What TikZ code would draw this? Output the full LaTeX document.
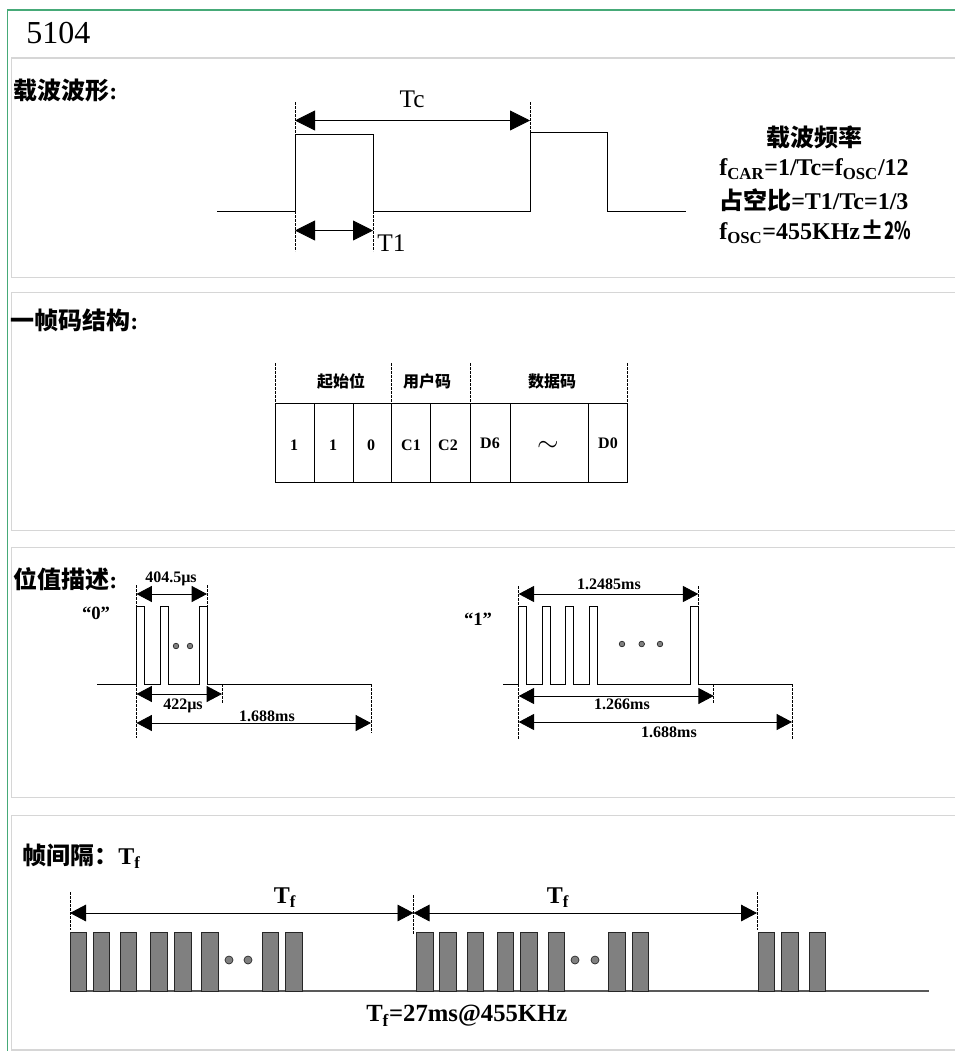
\documentclass[tikz,border=0pt]{standalone}
\usepackage{fontspec}
\setmainfont{Liberation Serif}
\newfontfamily\cjk{Noto Sans CJK SC}
\usepackage{xcolor,graphicx}
\usetikzlibrary{arrows.meta}
\tikzset{
  wave/.style={line width=0.62pt},
  guide/.style={line width=0.62pt,dash pattern=on 2pt off 1pt},
  bigdim/.style={line width=0.62pt,{Triangle[length=15pt,width=15pt]}-{Triangle[length=15pt,width=15pt]}},
  smalldim/.style={line width=0.62pt,{Triangle[length=11.5pt,width=12pt]}-{Triangle[length=11.5pt,width=12pt]}},
  tfdim/.style={line width=0.62pt,{Triangle[length=12pt,width=12.5pt]}-{Triangle[length=12pt,width=12.5pt]}},
  panel/.style={line width=0.9pt,draw={rgb,255:red,214;green,214;blue,214}},
  txt/.style={inner sep=0pt},
  head/.style={txt,anchor=west,font=\bfseries\fontsize{18pt}{20pt}\selectfont},
  small/.style={txt,font=\bfseries\fontsize{12pt}{14pt}\selectfont},
  quoted/.style={txt,font=\bfseries\fontsize{14pt}{16pt}\selectfont},
  plain/.style={txt,font=\fontsize{19pt}{21pt}\selectfont},
  bar/.style={draw=black!85,line width=0.7pt,fill=black!50},
  dot/.style={draw=black!85,line width=0.5pt,fill=black!50},
}
\begin{document}
\begin{tikzpicture}[x=0.75pt,y=0.75pt,yscale=-1,xscale=1]
\useasboundingbox (0,0) rectangle (955,1051);

%Page frame
\draw [line width=1.4pt,draw={rgb,255:red,70;green,170;blue,120}] (955,10) -- (7.5,10) -- (7.5,1051);
\draw [panel] (955,58) -- (11.5,58) -- (11.5,277.5) -- (955,277.5);
\draw [panel] (955,292.5) -- (11.5,292.5) -- (11.5,530.5) -- (955,530.5);
\draw [panel] (955,547.5) -- (11.5,547.5) -- (11.5,797.5) -- (955,797.5);
\draw [panel] (955,815.5) -- (11.5,815.5) -- (11.5,1050) -- (955,1050);

% Text Node
\node [plain,font=\fontsize{24pt}{26pt}\selectfont,anchor=west] (title) at (26,33) {5104};

%Carrier wave
\node [head] (headCarrier) at (13,90) {{\cjk 载波波形}:};
\draw [wave] (217,211) -- (295,211) -- (295,134) -- (373,134) -- (373,211) -- (530,211) -- (530,132) -- (607.5,132) -- (607.5,211) -- (686,211);
\draw [guide] (295,102) -- (295,140);
\draw [guide] (295,211) -- (295,251);
\draw [guide] (373,211) -- (373,251);
\draw [guide] (530,102) -- (530,140);
\draw [bigdim] (295,120.5) -- (530,120.5);
\draw [bigdim] (295,230.5) -- (373,230.5);
\node [plain] (labelTc) at (412,99) {Tc};
\node [plain] (labelTone) at (391.5,243) {T1};
% Text Node
\node [head,anchor=center] (freqTitle) at (814,137) {\cjk 载波频率};
\node [head] (freqOne) at (719,169) {f\textsubscript{CAR}=1/Tc=f\textsubscript{OSC}/12};
\node [head] (freqTwo) at (719,200) {{\cjk 占空比}=T1/Tc=1/3};
\node [head] (freqThree) at (719,232) {f\textsubscript{OSC}=455KHz{\cjk ±\scalebox{0.7}[1]{2\%}}};

%Frame structure
\node [head] (headFrame) at (10,320) {{\cjk 一帧码结构}:};
\draw [wave] (275,403) -- (627.5,403) -- (627.5,482) -- (275,482) -- cycle;
\draw [wave] (314,403) -- (314,482);
\draw [wave] (353,403) -- (353,482);
\draw [wave] (391.5,403) -- (391.5,482);
\draw [wave] (430.5,403) -- (430.5,482);
\draw [wave] (470,403) -- (470,482);
\draw [wave] (510,403) -- (510,482);
\draw [wave] (588.5,403) -- (588.5,482);
\draw [guide] (275,363) -- (275,403);
\draw [guide] (391.5,363) -- (391.5,403);
\draw [guide] (470,363) -- (470,403);
\draw [guide] (627.5,363) -- (627.5,403);
\node [small] (startBits) at (341,381) {\cjk 起始位};
\node [small] (userCode) at (427,381) {\cjk 用户码};
\node [small] (dataCode) at (552,381) {\cjk 数据码};
\node [small] (cellA) at (294,445) {1};
\node [small] (cellB) at (333,445) {1};
\node [small] (cellC) at (371,445) {0};
\node [small] (cellD) at (411,445) {C1};
\node [small] (cellE) at (448,445) {C2};
\node [small] (cellF) at (490,443) {D6};
\node [small,font=\fontsize{22pt}{24pt}\selectfont] (cellG) at (548,446) {$\sim$};
\node [small] (cellH) at (608,443) {D0};

%Bit value zero
\node [head] (headBit) at (13,579) {{\cjk 位值描述}:};
\node [quoted] (zeroLabel) at (96,613) {“0”};
\draw [wave] (97,684) -- (136.5,684) -- (136.5,606) -- (144,606) -- (144,684) -- (160,684) -- (160,606) -- (168,606) -- (168,684) -- (199,684) -- (199,606) -- (207,606) -- (207,684) -- (371,684);
\draw [guide] (136.5,585) -- (136.5,606);
\draw [guide] (207,585) -- (207,606);
\draw [guide] (136.5,684) -- (136.5,738);
\draw [guide] (222,684) -- (222,703);
\draw [guide] (371,684) -- (371,733);
\draw [smalldim] (136.5,594) -- (207,594);
\draw [smalldim] (136.5,694) -- (222,694);
\draw [smalldim] (136.5,723) -- (371,723);
\node [small] (labelPulseZero) at (171,579) {404.5µs};
\node [small] (labelGapZero) at (183,706) {422µs};
\node [small] (labelBitZero) at (267,716) {1.688ms};
\draw [dot] (176,646) circle [radius=2.8];
\draw [dot] (190,646) circle [radius=2.8];

%Bit value one
\node [quoted] (oneLabel) at (478,619) {“1”};
\draw [wave] (503,684) -- (518.7,684) -- (518.7,606) -- (526.7,606) -- (526.7,684) -- (542,684) -- (542,606) -- (550,606) -- (550,684) -- (565.7,684) -- (565.7,606) -- (573.7,606) -- (573.7,684) -- (589,684) -- (589,606) -- (597,606) -- (597,684) -- (690.3,684) -- (690.3,606) -- (698.3,606) -- (698.3,684) -- (792,684);
\draw [guide] (518.7,586) -- (518.7,606);
\draw [guide] (698.3,586) -- (698.3,606);
\draw [guide] (518.7,684) -- (518.7,739);
\draw [guide] (713.7,684) -- (713.7,703);
\draw [guide] (792,684) -- (792,739);
\draw [smalldim] (518.7,594) -- (698.3,594);
\draw [smalldim] (518.7,696) -- (713.7,696);
\draw [smalldim] (518.7,722) -- (792,722);
\node [small] (labelPulseOne) at (609,584) {1.2485ms};
\node [small] (labelGapOne) at (622,704) {1.266ms};
\node [small] (labelBitOne) at (669,732) {1.688ms};
\draw [dot] (622,644) circle [radius=2.8];
\draw [dot] (641.7,644) circle [radius=2.8];
\draw [dot] (660,644) circle [radius=2.8];

%Frame interval
\node [head] (headInterval) at (22,856) {{\cjk 帧间隔：}T\textsubscript{f}};
\draw [wave,black!65,line width=1pt] (70,991) -- (929,991);
\draw [bar] (70,932) rectangle (86,991);
\draw [bar] (93,932) rectangle (109,991);
\draw [bar] (120,932) rectangle (136,991);
\draw [bar] (150,932) rectangle (167,991);
\draw [bar] (174,932) rectangle (191,991);
\draw [bar] (201,932) rectangle (218,991);
\draw [bar] (262,932) rectangle (278,991);
\draw [bar] (285,932) rectangle (302,991);
\draw [bar] (416,932) rectangle (433,991);
\draw [bar] (439,932) rectangle (456,991);
\draw [bar] (467,932) rectangle (483,991);
\draw [bar] (497,932) rectangle (513,991);
\draw [bar] (520,932) rectangle (537,991);
\draw [bar] (548,932) rectangle (564,991);
\draw [bar] (608,932) rectangle (625,991);
\draw [bar] (632,932) rectangle (648,991);
\draw [bar] (758,932) rectangle (774,991);
\draw [bar] (781,932) rectangle (798,991);
\draw [bar] (809,932) rectangle (825,991);
\draw [dot] (229,960) circle [radius=4];
\draw [dot] (248,960) circle [radius=4];
\draw [dot] (575,960) circle [radius=4];
\draw [dot] (595,960) circle [radius=4];
\draw [guide] (70,892) -- (70,930);
\draw [guide] (413.5,895) -- (413.5,934);
\draw [guide] (757,892) -- (757,930);
\draw [tfdim] (70,913) -- (413.5,913);
\draw [tfdim] (413.5,913) -- (757,913);
\node [head,anchor=center] (labelTfA) at (285,898) {T\textsubscript{f}};
\node [head,anchor=center] (labelTfB) at (558,898) {T\textsubscript{f}};
\node [head,font=\bfseries\fontsize{18.5pt}{20pt}\selectfont] (labelTfValue) at (366,1016) {T\textsubscript{f}=27ms@455KHz};

\end{tikzpicture}
\end{document}
